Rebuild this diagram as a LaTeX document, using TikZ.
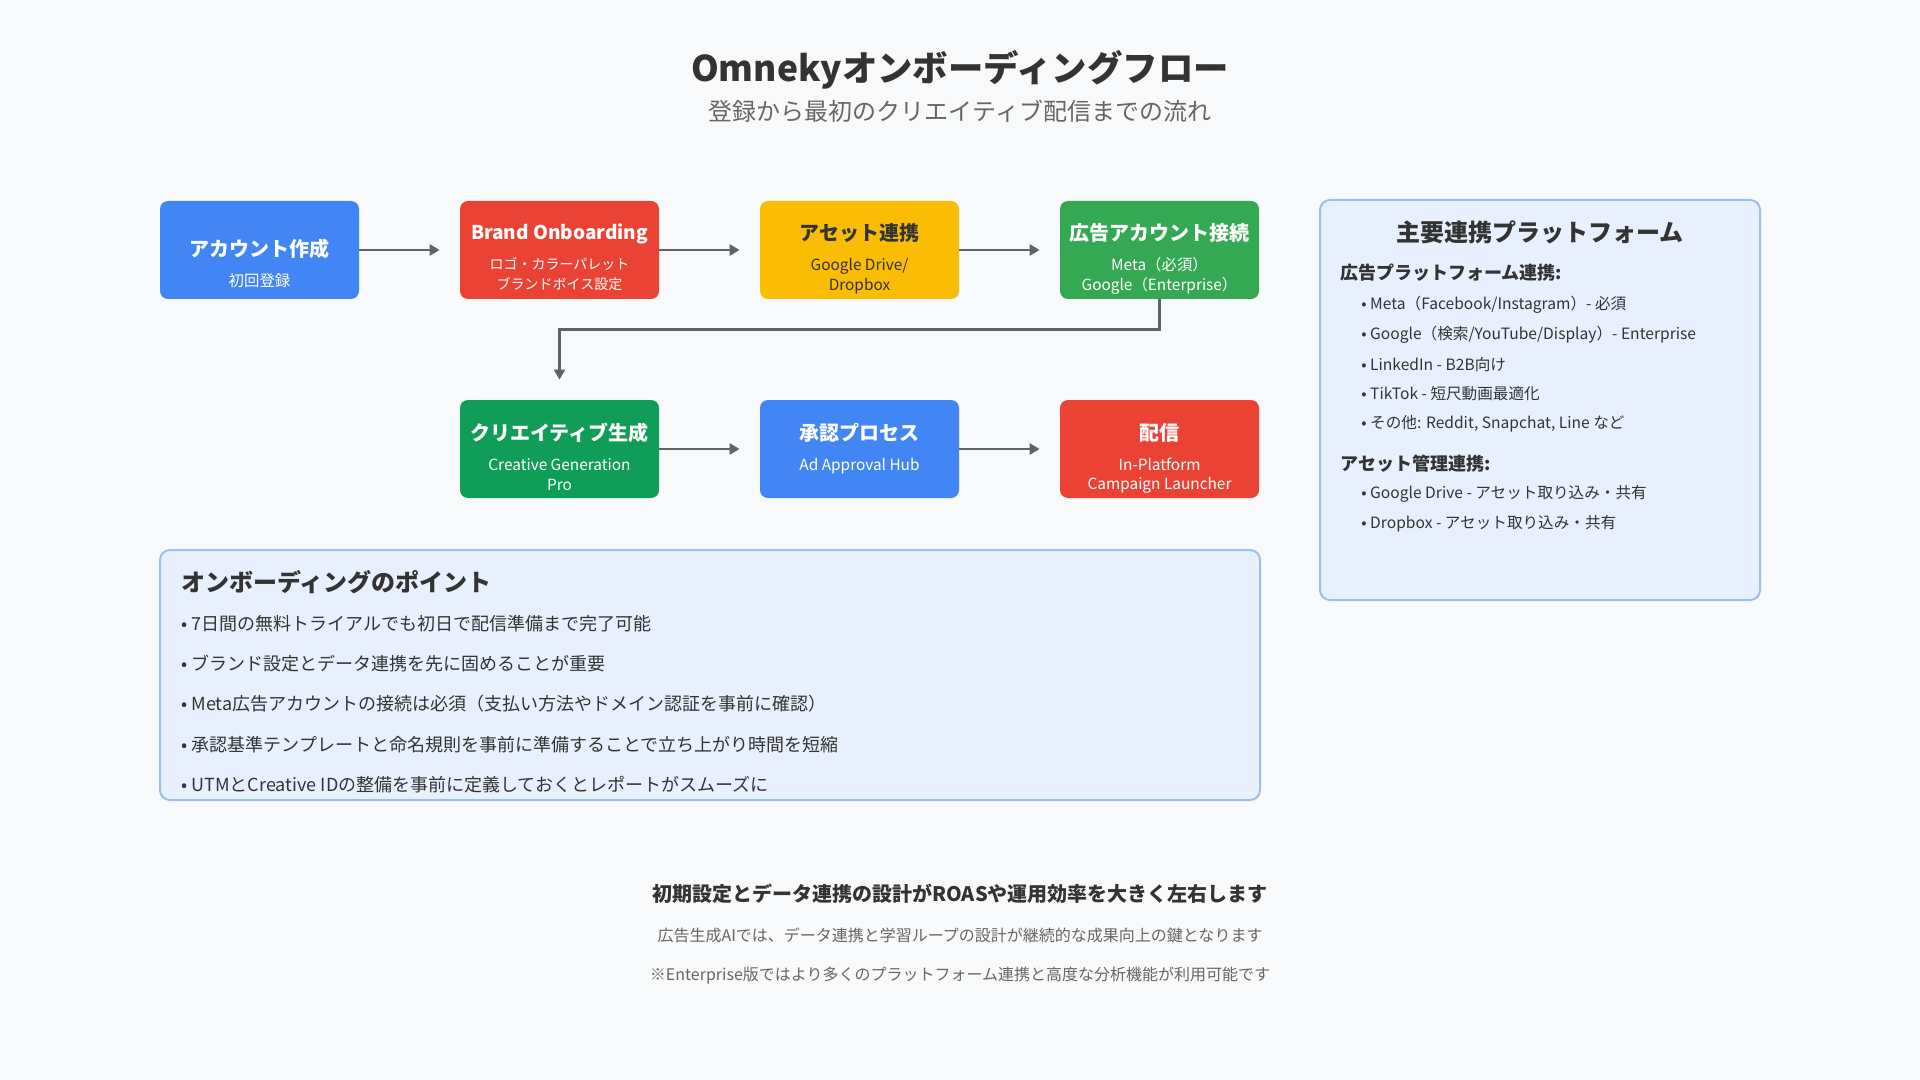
\documentclass[tikz,border=0pt]{standalone}
\usepackage{fontspec}
\setmainfont{Noto Sans CJK JP}
\usepackage{xcolor}
\usepackage{tikz}
\usetikzlibrary{arrows.meta,positioning}

\definecolor{gblue}{HTML}{4285F4}
\definecolor{gred}{HTML}{EA4335}
\definecolor{gyellow}{HTML}{FBBC04}
\definecolor{ggreen}{HTML}{34A853}
\definecolor{gdgreen}{HTML}{0F9D58}
\definecolor{pagebg}{HTML}{F8F9FA}
\definecolor{panelfill}{HTML}{E8F0FE}
\definecolor{panelline}{HTML}{9DBEF0}
\definecolor{arrowgray}{HTML}{5F6368}
\definecolor{textdark}{HTML}{333333}
\definecolor{textgray}{HTML}{666666}

\newcommand{\boxtitlefont}{\fontsize{10pt}{12pt}\selectfont\bfseries}
\newcommand{\boxsubfont}{\fontsize{7.7pt}{9.8pt}\selectfont}
% title line of a step box; #1 is a strut that pushes the text down
\newcommand{\boxhead}[2]{{\boxtitlefont\rule{0pt}{#1}#2}}

\begin{document}
\begin{tikzpicture}[
    x=0.5pt, y=-0.5pt,
    flowbox/.style={rounded corners=4pt, minimum width=99.5pt, minimum height=49pt, inner sep=0pt, align=center, text=white, font=\boxsubfont},
    flowarrow/.style={-{Triangle[length=5pt,width=5.5pt]}, line width=1.4pt, draw=arrowgray, shorten >=10pt},
    panel/.style={draw=panelline, fill=panelfill, line width=1pt, rounded corners=5pt},
    paneltitle/.style={font=\fontsize{12pt}{14pt}\selectfont\bfseries, text=textdark, inner sep=0pt},
    panelhead/.style={font=\fontsize{9pt}{11pt}\selectfont\bfseries, text=textdark, inner sep=0pt, anchor=west},
    platitem/.style={font=\fontsize{7.8pt}{10pt}\selectfont, text=textdark, inner sep=0pt, anchor=west},
    tipitem/.style={font=\fontsize{9pt}{11pt}\selectfont, text=textdark, inner sep=0pt, anchor=west},
    note/.style={font=\fontsize{8pt}{10pt}\selectfont, text=textgray, inner sep=0pt}
]
    % Page
    \fill[pagebg] (0,0) rectangle (1920,1080);
    \useasboundingbox (0,0) rectangle (1920,1080);

    % Heading
    \node[font=\fontsize{17.7pt}{21pt}\selectfont\bfseries, text=textdark, inner sep=0pt] (title) at (960,70) {Omnekyオンボーディングフロー};
    \node[font=\fontsize{12pt}{14pt}\selectfont, text=textgray, inner sep=0pt] (subtitle) at (960,111) {登録から最初のクリエイティブ配信までの流れ};

    % Flow: first row
    \node[flowbox, fill=gblue] (acct) at (259.5,250) {\boxhead{21.9pt}{アカウント作成}\\[5.3pt]初回登録};
    \node[flowbox, fill=gred] (brand) at (559.5,250) {{\fontsize{9.5pt}{12pt}\selectfont\bfseries\rule{0pt}{15.1pt}Brand Onboarding}\\[5.3pt]{\fontsize{7pt}{9.8pt}\selectfont ロゴ・カラーパレット}\\{\fontsize{7pt}{9.8pt}\selectfont ブランドボイス設定}};
    \node[flowbox, fill=gyellow, text=textdark] (asset) at (859.5,250) {\boxhead{17.4pt}{アセット連携}\\[5.3pt]Google Drive/\\Dropbox};
    \node[flowbox, fill=ggreen] (adacct) at (1159.5,250) {\boxhead{17.4pt}{広告アカウント接続}\\[5.3pt]Meta（必須）\\Google（Enterprise）};

    % Flow: second row
    \node[flowbox, fill=gdgreen] (creative) at (559.5,449) {\boxhead{16.6pt}{クリエイティブ生成}\\[5.3pt]Creative Generation\\Pro};
    \node[flowbox, fill=gblue] (approve) at (859.5,449) {\boxhead{0pt}{承認プロセス}\\[5.3pt]Ad Approval Hub};
    \node[flowbox, fill=gred] (launch) at (1159.5,449) {\boxhead{17.9pt}{配信}\\[5.3pt]In-Platform\\Campaign Launcher};

    % Connectors
    \draw[flowarrow] (acct) -- (brand);
    \draw[flowarrow] (brand) -- (asset);
    \draw[flowarrow] (asset) -- (adacct);
    \draw[flowarrow] (adacct.south) -- ++(0,30) -| (creative.north);
    \draw[flowarrow] (creative) -- (approve);
    \draw[flowarrow] (approve) -- (launch);

    % Platforms panel
    \node[panel, minimum width=220pt, minimum height=200pt] (platpanel) at (1540,400) {};
    \node[paneltitle] (plattitle) at (1540,232) {主要連携プラットフォーム};
    \node[panelhead] (adhead) at (1340,273) {広告プラットフォーム連携:};
    \node[platitem] (admeta) at (1361,305) {• Meta（Facebook/Instagram）- 必須};
    \node[platitem] (adgoogle) at (1361,335) {• Google（検索/YouTube/Display）- Enterprise};
    \node[platitem] (adlinkedin) at (1361,365) {• LinkedIn - B2B向け};
    \node[platitem] (adtiktok) at (1361,394) {• TikTok - 短尺動画最適化};
    \node[platitem] (adother) at (1361,424) {• その他: Reddit, Snapchat, Line など};
    \node[panelhead] (assethead) at (1340,464) {アセット管理連携:};
    \node[platitem] (assetdrive) at (1361,494) {• Google Drive - アセット取り込み・共有};
    \node[platitem] (assetdropbox) at (1361,524) {• Dropbox - アセット取り込み・共有};

    % Onboarding tips panel
    \node[panel, minimum width=550pt, minimum height=125pt] (tippanel) at (710,675) {};
    \node[paneltitle, anchor=west] (tiptitle) at (181,582) {オンボーディングのポイント};
    \node[tipitem] (tipone) at (181,624) {• 7日間の無料トライアルでも初日で配信準備まで完了可能};
    \node[tipitem] (tiptwo) at (181,664) {• ブランド設定とデータ連携を先に固めることが重要};
    \node[tipitem] (tipthree) at (181,704) {• Meta広告アカウントの接続は必須（支払い方法やドメイン認証を事前に確認）};
    \node[tipitem] (tipfour) at (181,745) {• 承認基準テンプレートと命名規則を事前に準備することで立ち上がり時間を短縮};
    \node[tipitem] (tipfive) at (181,785) {• UTMとCreative IDの整備を事前に定義しておくとレポートがスムーズに};

    % Closing notes
    \node[font=\fontsize{10pt}{12pt}\selectfont\bfseries, text=textdark, inner sep=0pt] (summary) at (960,894) {初期設定とデータ連携の設計がROASや運用効率を大きく左右します};
    \node[note] (noteai) at (960,935) {広告生成AIでは、データ連携と学習ループの設計が継続的な成果向上の鍵となります};
    \node[note] (noteent) at (960,976) {※Enterprise版ではより多くのプラットフォーム連携と高度な分析機能が利用可能です};

\end{tikzpicture}
\end{document}
